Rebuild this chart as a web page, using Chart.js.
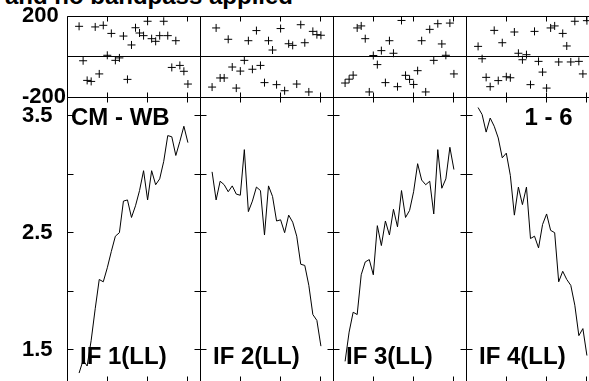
<!DOCTYPE html>
<html><head><meta charset="utf-8">
<script src="https://cdn.jsdelivr.net/npm/chart.js@4/dist/chart.umd.min.js"></script>
<style>
html,body{margin:0;padding:0;background:#fff;width:589px;height:381px;overflow:hidden;position:relative}
canvas{position:absolute}
#title{position:absolute;right:296px;top:-16px;font:bold 24px/24px 'Liberation Sans',Arial,sans-serif;white-space:nowrap;color:#000}
</style></head><body>
<div id="title">Calibrated and no bandpass applied</div>
<script>
// ---------------- data ----------------
const channels = [3,4,5,6,7,8,9,10,11,12,13,14,15,16,17,18,19,20,21,22,23,24,25,26,27,28,29,30];
const ifLabels = ['IF 1(LL)','IF 2(LL)','IF 3(LL)','IF 4(LL)'];
const baselineLabel = 'CM - WB';
const timeLabel = '1 - 6';

const phaseIF1 = [149,-21,-118,-123,146,-86,154,6,114,-19,-7,101,-113,57,142,116,103,174,88,75,103,174,103,-54,78,-44,-73,-136];
const phaseIF2 = [-151,141,-106,-106,85,-52,-156,-72,-19,78,-63,128,-44,-129,78,32,-139,138,-169,63,55,-136,157,68,-175,124,108,105];
const phaseIF3 = [-131,-112,-92,141,151,88,-175,5,-40,29,-129,78,16,-149,178,-93,-113,-138,-70,78,-175,134,-19,162,62,6,165,-86];
const phaseIF4 = [50,-11,-103,-149,129,-119,68,-100,-105,121,16,-16,9,-139,124,-24,-77,-156,141,151,-27,114,52,-27,174,-24,-86,177];

const ampIF1 = [1.30,1.41,1.36,1.58,1.85,2.10,2.08,2.20,2.34,2.47,2.50,2.77,2.78,2.63,2.73,2.86,3.03,2.78,3.03,2.91,2.96,3.11,3.33,3.32,3.16,3.28,3.41,3.27];
const ampIF2 = [3.02,2.78,2.94,2.91,2.85,2.90,2.83,2.82,3.21,2.68,2.77,2.89,2.86,2.48,2.90,2.81,2.60,2.61,2.50,2.65,2.59,2.47,2.23,2.22,2.05,1.80,1.75,1.53];
const ampIF3 = [1.40,1.65,1.82,1.80,2.14,2.25,2.27,2.14,2.56,2.39,2.60,2.48,2.70,2.55,2.86,2.63,2.69,2.85,3.09,2.95,2.91,2.94,2.66,3.21,2.88,2.96,3.23,3.04];
const ampIF4 = [3.57,3.51,3.36,3.48,3.41,3.31,3.14,3.18,2.99,2.65,2.89,2.74,2.89,2.45,2.47,2.37,2.57,2.66,2.52,2.50,2.08,2.17,2.10,2.05,1.88,1.62,1.68,1.45];

const phaseTicks = [-200, 200];
const phaseTickLabels = ['-200', '200'];
const ampTicks = [1.5, 2.0, 2.5, 3.0, 3.5];
const ampTickLabels = ['1.5', '', '2.5', '', '3.5'];
const chanTicks = [10, 20, 30];
const phaseZero = 0;

const phaseSeries = [phaseIF1, phaseIF2, phaseIF3, phaseIF4];
const ampSeries = [ampIF1, ampIF2, ampIF3, ampIF4];

// ---------------- layout ----------------
const COL_LEFT = [67, 200, 333, 466], COL_W = 133;
const PH_TOP = 16, PH_H = 81, AMP_TOP = 97, AMP_H = 284;
const PAD = 20, LABEL_X = 22;
const X_MIN = 0, X_MAX = 33;
const PH_MIN = -200, PH_MAX = 200;
const AMP_MIN = 1.232, AMP_MAX = 3.66;
const FONT = "'Liberation Sans', Arial, Helvetica, sans-serif";

Chart.defaults.font.family = FONT;
Chart.defaults.color = '#000';

function framePlugin(cfg) {
  return {
    id: 'frame' + Math.random().toString(36).slice(2),
    afterDatasetsDraw(chart) {
      const {ctx, chartArea: a, scales: {x, y}} = chart;
      const L = Math.floor(a.left) + 0.5, R = Math.floor(a.right) + 0.5;
      const T = Math.floor(a.top) + 0.5, B = Math.floor(a.bottom) + 0.5;
      ctx.save();
      ctx.strokeStyle = '#000';
      ctx.lineWidth = 1;
      ctx.beginPath();
      ctx.rect(L, T, R - L, B - T);
      cfg.yTicks.forEach(v => {
        const py = Math.floor(y.getPixelForValue(v)) + 0.5;
        ctx.moveTo(L, py); ctx.lineTo(L + 6, py);
        ctx.moveTo(R - 6, py); ctx.lineTo(R, py);
      });
      chanTicks.forEach(v => {
        const px = Math.floor(x.getPixelForValue(v)) + 0.5;
        ctx.moveTo(px, T); ctx.lineTo(px, T + 5);
        ctx.moveTo(px, B - 5); ctx.lineTo(px, B);
      });
      if (cfg.zeroLine) {
        const pz = Math.floor(y.getPixelForValue(phaseZero)) + 0.5;
        ctx.moveTo(L, pz); ctx.lineTo(R, pz);
      }
      ctx.stroke();
      ctx.restore();
    },
    afterDraw(chart) {
      const {ctx, chartArea: a} = chart;
      ctx.save();
      ctx.fillStyle = '#000';
      ctx.textBaseline = 'alphabetic';
      ctx.font = 'bold 24px ' + FONT;
      (cfg.texts || []).forEach(t => {
        ctx.textAlign = t.align;
        ctx.fillText(t.text, a.left + t.dx, t.y);
      });
      ctx.restore();
    }
  };
}

function makePanel(kind, col) {
  const isFirst = col === 0;
  const isPhase = kind === 'phase';
  const top = isPhase ? PH_TOP : AMP_TOP;
  const h = isPhase ? PH_H : AMP_H;
  const canvasLeft = isFirst ? 0 : COL_LEFT[col] - PAD;
  const padLeft = isFirst ? LABEL_X : PAD;
  const yWidth = COL_LEFT[0] - LABEL_X;
  const canvasTop = top - PAD;
  const width = (COL_LEFT[col] - canvasLeft) + COL_W + PAD;
  const height = PAD + h + PAD;

  const cv = document.createElement('canvas');
  cv.width = width; cv.height = height;
  cv.style.left = canvasLeft + 'px';
  cv.style.top = canvasTop + 'px';
  cv.style.width = width + 'px';
  cv.style.height = height + 'px';
  document.body.appendChild(cv);

  const tickVals = isPhase ? phaseTicks : ampTicks;
  const tickLabs = isPhase ? phaseTickLabels : ampTickLabels;
  const values = isPhase ? phaseSeries[col] : ampSeries[col];
  const pts = channels.map((c, i) => ({x: c, y: values[i]}));

  const texts = [];
  if (!isPhase) {
    texts.push({text: ifLabels[col], dx: 13, y: 364, align: 'left'});
    if (col === 0) texts.push({text: baselineLabel, dx: 4, y: 125, align: 'left'});
    if (col === 3) texts.push({text: timeLabel, dx: 106.5, y: 125, align: 'right'});
  }
  texts.forEach(t => { t.y = t.y - canvasTop; });

  const yScale = {
    type: 'linear',
    min: isPhase ? PH_MIN : AMP_MIN,
    max: isPhase ? PH_MAX : AMP_MAX,
    display: isFirst,
    position: 'left',
    grid: {display: false},
    border: {display: false},
    afterBuildTicks: s => { s.ticks = tickVals.map(v => ({value: v})); },
    ticks: {
      autoSkip: false,
      padding: 0,
      crossAlign: 'far',
      color: '#000',
      font: {size: 22, weight: 'bold', family: FONT},
      callback: (v) => { const i = tickVals.indexOf(v); return i >= 0 ? tickLabs[i] : ''; }
    }
  };
  if (isFirst) yScale.afterFit = s => { s.width = yWidth; };

  new Chart(cv, {
    type: isPhase ? 'scatter' : 'line',
    data: {
      datasets: [isPhase ? {
        data: pts,
        showLine: false,
        pointStyle: 'cross',
        pointRadius: 4,
        pointBorderWidth: 1,
        borderColor: '#000',
        backgroundColor: '#000'
      } : {
        data: pts,
        borderColor: '#000',
        borderWidth: 1,
        pointRadius: 0,
        tension: 0,
        fill: false
      }]
    },
    options: {
      responsive: false,
      animation: false,
      devicePixelRatio: 1,
      layout: {padding: {left: padLeft, right: PAD, top: PAD, bottom: PAD}},
      plugins: {legend: {display: false}, tooltip: {enabled: false}, title: {display: false}},
      scales: {
        x: {type: 'linear', min: X_MIN, max: X_MAX, display: false},
        y: yScale
      }
    },
    plugins: [framePlugin({yTicks: tickVals, zeroLine: isPhase, texts})]
  });
}

for (let c = 0; c < 4; c++) {
  makePanel('phase', c);
  makePanel('amp', c);
}
</script>
</body></html>
